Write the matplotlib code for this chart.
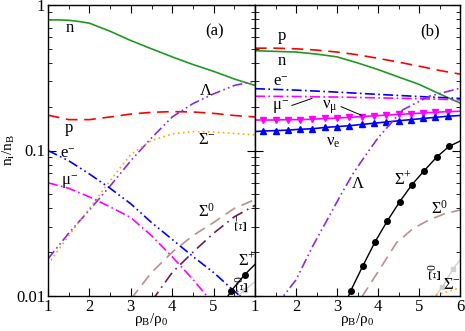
import matplotlib
matplotlib.use("Agg")
import matplotlib.pyplot as plt

plt.rcParams['font.family'] = ['Liberation Serif', 'DejaVu Serif']
plt.rcParams['mathtext.fontset'] = 'custom'
plt.rcParams['mathtext.rm'] = 'Liberation Serif'
plt.rcParams['mathtext.it'] = 'Liberation Serif'
plt.rcParams['mathtext.bf'] = 'Liberation Serif:bold'

# ---------------- panel (a) data ----------------
a_n_x = [1.0, 1.25, 1.5, 1.75, 2.0, 2.5, 3.0, 3.5, 4.0, 4.5, 5.0, 5.5, 6.0]
a_n_y = [0.79, 0.79, 0.785, 0.77, 0.75, 0.66, 0.57, 0.50, 0.44, 0.39, 0.35, 0.31, 0.28]
a_p_x = [1.0, 1.5, 2.0, 2.5, 3.0, 3.5, 4.0, 4.5, 5.0, 5.5, 6.0]
a_p_y = [0.175, 0.163, 0.163, 0.170, 0.178, 0.183, 0.185, 0.184, 0.180, 0.174, 0.170]
a_lam_x = [1.0, 1.5, 2.0, 2.5, 3.0, 3.5, 4.0, 4.5, 5.0, 5.5, 6.0]
a_lam_y = [0.018, 0.027, 0.039, 0.057, 0.085, 0.122, 0.170, 0.210, 0.245, 0.280, 0.300]
a_sm_x = [1.0, 1.5, 2.0, 2.5, 3.0, 3.5, 4.0, 4.5, 5.0, 5.5, 6.0]
a_sm_y = [0.0165, 0.026, 0.040, 0.062, 0.094, 0.117, 0.130, 0.135, 0.134, 0.131, 0.128]
a_e_x = [1.0, 1.5, 2.0, 2.5, 3.0, 3.5, 4.0, 4.5, 5.0, 5.5, 6.0]
a_e_y = [0.100, 0.085, 0.069, 0.055, 0.043, 0.032, 0.0245, 0.0187, 0.0145, 0.0108, 0.0082]
a_mu_x = [1.0, 1.5, 2.0, 2.5, 3.0, 3.5, 4.0, 4.5, 5.0]
a_mu_y = [0.060, 0.055, 0.048, 0.041, 0.0346, 0.026, 0.0186, 0.013, 0.0088]
a_s0_x = [3.0, 3.5, 4.0, 4.5, 5.0, 5.5, 6.0]
a_s0_y = [0.0095, 0.0145, 0.020, 0.026, 0.032, 0.040, 0.046]
a_xim_x = [3.5, 4.0, 4.5, 5.0, 5.5, 6.0]
a_xim_y = [0.0092, 0.0145, 0.020, 0.027, 0.035, 0.042]
a_sp_x = [5.3, 5.42, 5.75, 6.0]
a_sp_y = [0.0095, 0.0108, 0.014, 0.0165]
a_x0_x = [5.55, 5.75, 6.0]
a_x0_y = [0.0098, 0.011, 0.0125]

# ---------------- panel (b) data ----------------
b_p_x = [1.0, 1.5, 2.0, 2.5, 3.0, 3.5, 4.0, 4.5, 5.0, 5.5, 6.0]
b_p_y = [0.505, 0.505, 0.50, 0.49, 0.475, 0.455, 0.43, 0.405, 0.38, 0.355, 0.335]
b_n_x = [1.0, 1.5, 2.0, 2.5, 3.0, 3.5, 4.0, 4.5, 5.0, 5.5, 6.0]
b_n_y = [0.485, 0.48, 0.475, 0.46, 0.44, 0.40, 0.36, 0.32, 0.285, 0.245, 0.212]
b_e_x = [1.0, 2.0, 3.0, 4.0, 5.0, 6.0]
b_e_y = [0.266, 0.260, 0.252, 0.243, 0.235, 0.228]
b_mu_x = [1.0, 2.0, 3.0, 4.0, 5.0, 6.0]
b_mu_y = [0.236, 0.235, 0.233, 0.230, 0.227, 0.223]
b_nu_x = [1.0, 1.2, 1.5, 1.8, 2.1, 2.4, 2.7, 3.0, 3.3, 3.6, 3.9, 4.2, 4.5, 4.8, 5.1, 5.4, 5.7, 6.0]
b_numu_y = [0.162, 0.162, 0.162, 0.163, 0.163, 0.164, 0.166, 0.167, 0.169, 0.171, 0.173,
            0.175, 0.177, 0.179, 0.181, 0.183, 0.185, 0.186]
b_nue_y = [0.135, 0.136, 0.137, 0.138, 0.140, 0.141, 0.144, 0.146, 0.148, 0.151, 0.154,
           0.157, 0.160, 0.163, 0.166, 0.169, 0.172, 0.174]
b_lam_x = [1.5, 2.0, 2.4, 2.8, 3.1, 3.4, 3.7, 4.0, 4.6, 5.25, 6.0]
b_lam_y = [0.0085, 0.0129, 0.0218, 0.035, 0.050, 0.070, 0.093, 0.122, 0.190, 0.236, 0.268]
b_sp_x = [3.25, 3.33, 3.63, 3.93, 4.23, 4.53, 4.83, 5.13, 5.43, 5.73, 6.0]
b_sp_y = [0.0095, 0.0108, 0.0161, 0.0236, 0.0329, 0.0445, 0.0583, 0.0728, 0.090, 0.1066, 0.116]
b_s0_x = [3.6, 4.03, 4.45, 4.85, 5.25, 5.6, 6.0]
b_s0_y = [0.0098, 0.0151, 0.0232, 0.029, 0.0334, 0.0365, 0.039]
b_x0_x = [5.38, 5.57, 5.83, 6.0]
b_x0_y = [0.0099, 0.0115, 0.0154, 0.0176]
b_sm_x = [5.3, 6.0]
b_sm_y = [0.0099, 0.0114]

xticks = [1, 2, 3, 4, 5, 6]
yticks = [0.01, 0.1, 1]
ytick_labels = ['0.01', '0.1', '1']

GREEN = '#1f9a1f'
RED = '#ff0000'
BLUE = '#0000ff'
MAG = '#ff00ff'
VIOLET = '#8a2be2'
ORANGE = '#ffa500'
ROSY = '#bc8f8f'
MAROON = '#6b1f4f'
GRAY = '#d0d0d0'

fig = plt.figure(figsize=(4.65, 3.31), dpi=100)
L, R, B, T = 48 / 465, 460 / 465, 1 - 296 / 331, 1 - 5 / 331
mid = 255 / 465
axa = fig.add_axes([L, B, mid - L, T - B])
axb = fig.add_axes([mid, B, R - mid, T - B])

lw = 1.2
dash2dot = (0, (6, 2, 1, 2, 1, 2))
dashdot = (0, (6, 2, 1, 2))

# panel a
axa.plot(a_n_x, a_n_y, color=GREEN, lw=lw)
axa.plot(a_p_x, a_p_y, color=RED, lw=lw, ls=(0, (7, 4)))
axa.plot(a_lam_x, a_lam_y, color=VIOLET, lw=lw, ls=dash2dot)
axa.plot(a_sm_x, a_sm_y, color=ORANGE, lw=lw, ls=(0, (1, 2)))
axa.plot(a_e_x, a_e_y, color=BLUE, lw=lw, ls=dash2dot)
axa.plot(a_mu_x, a_mu_y, color=MAG, lw=lw, ls=dashdot)
axa.plot(a_s0_x, a_s0_y, color=ROSY, lw=lw, ls=(0, (7, 4)))
axa.plot(a_xim_x, a_xim_y, color=MAROON, lw=lw, ls=(0, (7, 3, 1, 3)))
axa.plot(a_sp_x, a_sp_y, color='black', lw=1.0, marker='o', ms=4, markevery=[1, 2])
axa.plot(a_x0_x, a_x0_y, color=GRAY, lw=1.0, marker='s', ms=3.5, markevery=[1])

# panel b
axb.plot(b_p_x, b_p_y, color=RED, lw=lw, ls=(0, (7, 4)))
axb.plot(b_n_x, b_n_y, color=GREEN, lw=lw)
axb.plot(b_e_x, b_e_y, color=BLUE, lw=lw, ls=dashdot)
axb.plot(b_mu_x, b_mu_y, color=MAG, lw=lw, ls=dashdot)
axb.plot(b_nu_x, b_numu_y, color=MAG, lw=lw, marker='v', ms=4, markevery=slice(1, -1))
axb.plot(b_nu_x, b_nue_y, color=BLUE, lw=lw, marker='^', ms=4, markevery=slice(1, -1))
axb.plot(b_lam_x, b_lam_y, color=VIOLET, lw=lw, ls=dash2dot)
axb.plot(b_sp_x, b_sp_y, color='black', lw=1.0, marker='o', ms=4, markevery=slice(1, -1))
axb.plot(b_s0_x, b_s0_y, color=ROSY, lw=lw, ls=(0, (7, 4)))
axb.plot(b_x0_x, b_x0_y, color=GRAY, lw=1.0, marker='s', ms=3.5, markevery=[1, 2])
axb.plot(b_sm_x, b_sm_y, color=ORANGE, lw=lw, ls=(0, (1, 2)))

fs = 12
for ax in (axa, axb):
    ax.set_yscale('log')
    ax.set_xlim(1, 6)
    ax.set_ylim(0.01, 1)
    ax.set_xticks(xticks)
    ax.set_xticks([1.5, 2.5, 3.5, 4.5, 5.5], minor=True)
    ax.tick_params(which='both', direction='in', top=True, right=True, labelsize=fs)
    ax.tick_params(which='major', length=6, pad=2)
    ax.tick_params(which='minor', length=3)
    for s in ax.spines.values():
        s.set_linewidth(1.0)
    ax.set_xlabel(r'$\mathrm{\rho_B/\rho_0}$', fontsize=11)
    ax.xaxis.set_label_coords(0.5, -0.05)

axa.set_xticklabels(['1', '2', '3', '4', '5', ''])
axb.set_xticklabels(['1', '2', '3', '4', '5', '6'])
axa.set_yticks(yticks)
axa.set_yticklabels(ytick_labels)
axb.set_yticks(yticks)
axb.set_yticklabels([])
axa.set_ylabel(r'$\mathrm{n_i/n_B}$', fontsize=11)
axa.yaxis.set_label_coords(-0.15, 0.5)

def lab(ax, x, y, s, **kw):
    ax.text(x, y, s, fontsize=fs, ha='center', va='center', **kw)

lab(axa, 1.53, 0.69, 'n')
lab(axa, 5.03, 0.66, '(a)')
lab(axa, 4.82, 0.255, r'$\Lambda$')
lab(axa, 1.51, 0.142, 'p')
lab(axa, 4.84, 0.119, r'$\Sigma^{-}$')
lab(axa, 1.48, 0.094, r'$\mathrm{e}^{-}$')
lab(axa, 1.53, 0.061, r'$\mu^{-}$')
lab(axa, 4.84, 0.038, r'$\Sigma^{0}$')
lab(axa, 5.70, 0.032, r'$\Xi^{-}$', rotation=90)
lab(axa, 5.80, 0.0175, r'$\Sigma^{+}$')
lab(axa, 5.74, 0.0121, r'$\Xi^{0}$', rotation=90)

lab(axb, 5.27, 0.66, '(b)')
lab(axb, 1.66, 0.61, 'p')
lab(axb, 1.66, 0.41, 'n')
lab(axb, 1.63, 0.294, r'$\mathrm{e}^{-}$')
lab(axb, 1.63, 0.20, r'$\mu^{-}$')
lab(axb, 2.83, 0.20, r'$\nu_{\mu}$')
lab(axb, 2.90, 0.115, r'$\nu_{\mathrm{e}}$')
lab(axb, 3.51, 0.059, r'$\Lambda$')
lab(axb, 4.61, 0.063, r'$\Sigma^{+}$')
lab(axb, 5.51, 0.040, r'$\Sigma^{0}$')
lab(axb, 5.44, 0.0147, r'$\Xi^{0}$', rotation=90)
lab(axb, 5.80, 0.0119, r'$\Sigma^{-}$')
axb.plot([1.9, 2.39], [0.204, 0.228], color='black', lw=0.7)
axb.plot([3.1, 3.61], [0.20, 0.174], color='black', lw=0.7)

fig.savefig('out.png', dpi=100)
